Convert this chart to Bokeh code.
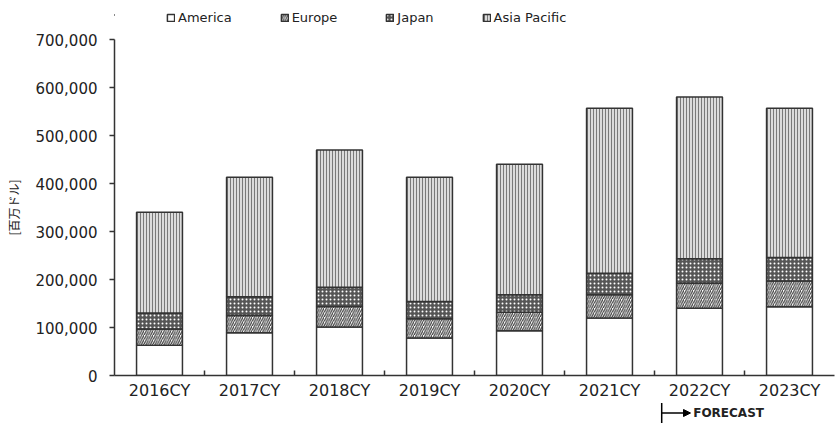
from bokeh.plotting import figure
from bokeh.layouts import column
from bokeh.models import (ColumnDataSource, Range1d, FixedTicker, NumeralTickFormatter,
                          CustomJSTickFormatter, Legend, LegendItem, Label, Arrow,
                          NormalHead, TeeHead)
from bokeh.embed import file_html
from bokeh.resources import INLINE

categories = ["2016CY", "2017CY", "2018CY", "2019CY", "2020CY", "2021CY", "2022CY", "2023CY"]
america = [63000, 89000, 101000, 78000, 93000, 120000, 140000, 143000]
europe = [34000, 36000, 43000, 40000, 39000, 48000, 52000, 54000]
japan = [33000, 39000, 40000, 36000, 36000, 45000, 51000, 49000]
asia_pacific = [210000, 249000, 286000, 259000, 272000, 344000, 337000, 311000]
series_names = ["America", "Europe", "Japan", "Asia Pacific"]
y_ticks = [0, 100000, 200000, 300000, 400000, 500000, 600000, 700000]
y_label = "[百万ドル]"
forecast_from = "2022CY"
forecast_text = "FORECAST"

n = len(categories)
xpos = [i + 0.5 for i in range(n)]
fields = ["America", "Europe", "Japan", "AsiaPacific"]
src = ColumnDataSource(dict(x=xpos, America=america, Europe=europe, Japan=japan, AsiaPacific=asia_pacific))

FONT = "DejaVu Sans"
DARK = "#333333"
TXT = "#222222"
styles = dict(fill_color=["white", "white", "#555555", "#dcdcdc"],
              hatch_pattern=[" ", "/", ".", "|"],
              hatch_color=["white", "#3c3c3c", "white", "#7a7a7a"],
              hatch_scale=[4, 4.5, 4, 3],
              hatch_weight=[1, 1.2, 2.5, 1])

xr = Range1d(0, n)
W = 835

# ---------- legend strip (zero-size swatch proxies outside the strip's visible range) ----------
leg = figure(width=W, height=29, x_range=Range1d(0, 1), y_range=Range1d(0, 1),
             output_backend="svg", toolbar_location=None, x_axis_type=None, y_axis_type=None,
             min_border_left=114, min_border_right=1, min_border_top=0, min_border_bottom=0)
leg.outline_line_color = None
proxy = ColumnDataSource(dict(x=[-5.0], top=[0.5], bottom=[0.5]))
leg_rs = []
for k in range(len(series_names)):
    leg_rs.append(leg.vbar(x="x", top="top", bottom="bottom", width=0.0, source=proxy,
                           line_color=DARK, line_width=1.5,
                           **{key: val[k] for key, val in styles.items()}))
legend = Legend(items=[LegendItem(label=nm, renderers=[r]) for nm, r in zip(series_names, leg_rs)],
                orientation="horizontal", location=(52, 4), spacing=48,
                glyph_width=9, glyph_height=9, label_standoff=3,
                padding=0, margin=0, border_line_color=None, background_fill_alpha=0,
                label_text_font=FONT, label_text_font_size="13px", label_text_color=TXT)
leg.add_layout(legend)

# ---------- main chart ----------
p = figure(width=W, height=373, x_range=xr, y_range=Range1d(0, 700000),
           output_backend="svg", toolbar_location=None,
           min_border_left=114, min_border_right=1, min_border_top=10, min_border_bottom=26)
p.outline_line_color = None
p.grid.grid_line_color = None

rs = p.vbar_stack(fields, x="x", width=0.51, source=src,
                  line_color=DARK, line_width=1.5, **styles)

xa = p.xaxis[0]
xa.ticker = FixedTicker(ticks=xpos, minor_ticks=[i for i in range(1, n)])
xa.formatter = CustomJSTickFormatter(args=dict(labels=categories), code="""
const i = Math.floor(tick);
return (i >= 0 && i < labels.length) ? labels[i] : "";
""")
xa.major_tick_line_color = None
xa.major_tick_out = 0
xa.major_tick_in = 0
xa.minor_tick_in = 5
xa.minor_tick_out = 0
xa.minor_tick_line_color = DARK
xa.minor_tick_line_width = 1.5
xa.axis_line_color = DARK
xa.axis_line_width = 1.5
xa.major_label_standoff = 5
xa.major_label_text_font = FONT
xa.major_label_text_font_size = "16px"
xa.major_label_text_color = TXT

ya = p.yaxis[0]
ya.ticker = FixedTicker(ticks=y_ticks, minor_ticks=[])
ya.formatter = NumeralTickFormatter(format="0,0")
ya.major_tick_out = 5
ya.major_tick_in = 0
ya.major_tick_line_color = DARK
ya.major_tick_line_width = 1.5
ya.axis_line_color = DARK
ya.axis_line_width = 1.5
ya.major_label_standoff = 12
ya.major_label_text_font = FONT
ya.major_label_text_font_size = "15px"
ya.major_label_text_color = TXT
ya.axis_label = y_label
ya.axis_label_text_font = "Noto Sans CJK JP"
ya.axis_label_text_font_size = "12px"
ya.axis_label_text_font_style = "normal"
ya.axis_label_text_color = TXT
ya.axis_label_standoff = 10

# ---------- forecast strip ----------
fc = figure(width=W, height=21, x_range=xr, y_range=Range1d(0, 1),
            output_backend="svg", toolbar_location=None, x_axis_type=None, y_axis_type=None,
            min_border_left=114, min_border_right=1, min_border_top=0, min_border_bottom=0)
fc.outline_line_color = None
b = categories.index(forecast_from)
fc.add_layout(Arrow(start=TeeHead(size=20, line_width=1.5, line_color="black"),
                    end=NormalHead(size=7, fill_color="black", line_color="black"),
                    x_start=b + 0.08, x_end=b + 0.40, y_start=0.5, y_end=0.5,
                    line_width=1.5, line_color="black"))
fc.add_layout(Label(x=b + 0.43, y=0.5, text=forecast_text, text_font=FONT,
                    text_font_size="12px", text_font_style="bold", text_baseline="middle",
                    text_color=TXT))

layout = column(leg, p, fc, spacing=0)
open("out.html", "w").write(file_html(layout, INLINE))
